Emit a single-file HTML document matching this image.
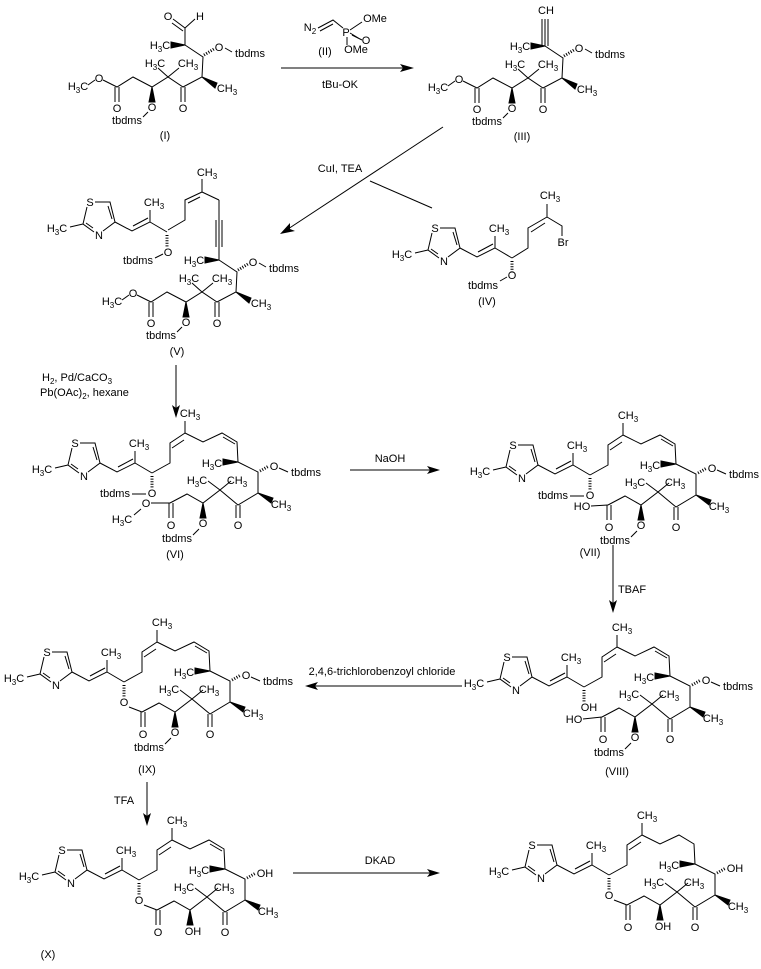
<!DOCTYPE html>
<html><head><meta charset="utf-8"><style>
html,body{margin:0;padding:0;background:#fff;}
svg{display:block;}
text{font-family:"Liberation Sans",sans-serif;font-size:11px;text-anchor:middle;fill:#000;}
</style></head><body>
<svg width="761" height="969" viewBox="0 0 761 969" xmlns="http://www.w3.org/2000/svg">
<defs>
<g id="head" stroke="#000" stroke-width="1" fill="none">
<path d="M80,443 L95,443 L100,463 L88,472 M79,473 L68,465 L72,448 M68,465 L55,468 M93,447 L97,460 M78,469 L71,464 M100,463 L117,472 L135,463 L135,451 M118,467 L133,459 M135,463 L152,473"/>
<line x1="152" y1="476" x2="152" y2="489" stroke-width="3" stroke-dasharray="1 1.6"/>
</g>
<g id="macro" stroke="#000" stroke-width="1" fill="none">
<path d="M152,473 L170,463 L170,443 L185,433 L185,421 M172,448 L184,440 M185,433 L203,442 L222,433 L237,442 L238,462 L258,472 L258,493 L238,505 L220,490 L203,503 L187,494 L170,503 M236,505 L236,518 M240,505 L240,518 M169,503 L169,518 M173,503 L173,518 M220,490 L208,481 M220,490 L231,481"/>
<polygon points="238,462 223,459 223,465" fill="#000"/>
<polygon points="258,493 273,498 271,503" fill="#000"/>
<polygon points="203,503 200,518 206,518" fill="#000"/>
<line x1="260" y1="471" x2="269" y2="466" stroke-width="3" stroke-dasharray="1 1.6"/>
</g>
<g id="chain" stroke="#000" stroke-width="1" fill="none">
<path d="M88,85 L95,80 M103,80 L117,87 L133,77 L152,87 L168,77 L183,87 L202,77 L203,57 L185,45 M168,77 L158,68 M168,77 L179,68 M115,87 L115,102 M119,87 L119,102 M181,87 L181,102 M185,87 L185,102 M148,112 L143,117 M225,48 L232,52"/>
<polygon points="152,87 149,102 155,102" fill="#000"/>
<polygon points="202,77 217,83 215,88" fill="#000"/>
<polygon points="185,45 171,42 171,48" fill="#000"/>
<line x1="204" y1="55" x2="214" y2="49" stroke-width="3" stroke-dasharray="1 1.6"/>
</g>
</defs>

<!-- (I) -->
<use href="#chain"/>
<path d="M185,45 L185,28 L173,19 M183,31 L172,23 M185,28 L195,19" stroke="#000" fill="none"/>
<text x="168" y="20">O</text><text x="200" y="20">H</text>
<text x="78" y="90">H<tspan font-size="8" dy="3">3</tspan><tspan dy="-3">C</tspan></text>
<text x="99" y="82">O</text><text x="117" y="112">O</text><text x="152" y="111">O</text><text x="127" y="124">tbdms</text>
<text x="155" y="67">H<tspan font-size="8" dy="3">3</tspan><tspan dy="-3">C</tspan></text>
<text x="188" y="67">CH<tspan font-size="8" dy="3">3</tspan></text>
<text x="183" y="112">O</text><text x="227" y="92">CH<tspan font-size="8" dy="3">3</tspan></text>
<text x="219" y="51">O</text><text x="250" y="57">tbdms</text>
<text x="160" y="49">H<tspan font-size="8" dy="3">3</tspan><tspan dy="-3">C</tspan></text>
<text x="165" y="139">(I)</text>

<!-- arrow 1 + (II) -->
<line x1="281" y1="68" x2="405" y2="68" stroke="#000"/>
<polygon points="414,68 400,64 403,68 400,72" fill="#000"/>
<text x="340" y="88">tBu-OK</text>
<path d="M318,28 L333,20 L343,28 M320,31 L333,24 M347,37 L347,45 M350,30 L362,22 M352,35 L362,40 M350,33 L360,39" stroke="#000" fill="none"/>
<text x="310" y="31">N<tspan font-size="8" dy="3">2</tspan></text>
<text x="346" y="36">P</text><text x="375" y="22">OMe</text><text x="366" y="44">O</text><text x="356" y="53">OMe</text>
<text x="325" y="55">(II)</text>

<!-- (III) -->
<g transform="translate(360,1)">
<use href="#chain"/>
<path d="M185,45 L185,18 M182,45 L182,18 M188,45 L188,18" stroke="#000" fill="none"/>
<text x="186" y="13">CH</text>
<text x="78" y="90">H<tspan font-size="8" dy="3">3</tspan><tspan dy="-3">C</tspan></text>
<text x="99" y="82">O</text><text x="117" y="112">O</text><text x="152" y="111">O</text><text x="127" y="124">tbdms</text>
<text x="155" y="67">H<tspan font-size="8" dy="3">3</tspan><tspan dy="-3">C</tspan></text>
<text x="188" y="67">CH<tspan font-size="8" dy="3">3</tspan></text>
<text x="183" y="112">O</text><text x="227" y="92">CH<tspan font-size="8" dy="3">3</tspan></text>
<text x="219" y="51">O</text><text x="250" y="57">tbdms</text>
<text x="160" y="49">H<tspan font-size="8" dy="3">3</tspan><tspan dy="-3">C</tspan></text>
</g>
<text x="522" y="140">(III)</text>

<!-- diagonal arrow -->
<line x1="443" y1="127" x2="288" y2="229" stroke="#000"/>
<polygon points="280,234 290,223 290,229 295,231" fill="#000"/>
<line x1="370" y1="181" x2="432" y2="208" stroke="#000"/>
<text x="340" y="172">CuI, TEA</text>

<!-- (IV) -->
<g transform="translate(360,-215)">
<use href="#head"/>
<text x="75" y="447">S</text><text x="84" y="480">N</text>
<text x="42" y="473">H<tspan font-size="8" dy="3">3</tspan><tspan dy="-3">C</tspan></text>
<text x="139" y="447">CH<tspan font-size="8" dy="3">3</tspan></text>
</g>
<path d="M512,258 L528,248 L528,228 L547,217 L547,204 M531,232 L545,223 M547,217 L562,226 L562,236 M507,277 L500,281" stroke="#000" fill="none"/>
<text x="550" y="199">CH<tspan font-size="8" dy="3">3</tspan></text>
<text x="563" y="246">Br</text>
<text x="512" y="279">O</text><text x="483" y="289">tbdms</text>
<text x="487" y="305">(IV)</text>

<!-- (V) -->
<g transform="translate(34,215)">
<use href="#chain"/>
<text x="78" y="90">H<tspan font-size="8" dy="3">3</tspan><tspan dy="-3">C</tspan></text>
<text x="99" y="82">O</text><text x="117" y="112">O</text><text x="152" y="111">O</text><text x="127" y="124">tbdms</text>
<text x="155" y="67">H<tspan font-size="8" dy="3">3</tspan><tspan dy="-3">C</tspan></text>
<text x="188" y="67">CH<tspan font-size="8" dy="3">3</tspan></text>
<text x="183" y="112">O</text><text x="227" y="92">CH<tspan font-size="8" dy="3">3</tspan></text>
<text x="219" y="51">O</text><text x="250" y="57">tbdms</text>
<text x="160" y="49">H<tspan font-size="8" dy="3">3</tspan><tspan dy="-3">C</tspan></text>
</g>
<path d="M219,260 L219,200 M216,247 L216,220 M222,247 L222,220 M219,200 L202,192 L202,179 M202,192 L185,200 L185,220 L168,230 M200,197 L188,203 M163,254 L155,258" stroke="#000" fill="none"/>
<text x="207" y="176">CH<tspan font-size="8" dy="3">3</tspan></text>
<g transform="translate(15,-241)">
<use href="#head"/>
<text x="75" y="447">S</text><text x="84" y="480">N</text>
<text x="42" y="473">H<tspan font-size="8" dy="3">3</tspan><tspan dy="-3">C</tspan></text>
<text x="139" y="447">CH<tspan font-size="8" dy="3">3</tspan></text>
</g>
<text x="168" y="256">O</text><text x="138" y="264">tbdms</text>
<text x="177" y="355">(V)</text>

<!-- V -> VI arrow -->
<line x1="176" y1="365" x2="176" y2="410" stroke="#000"/>
<polygon points="176,418 172,405 176,408 180,405" fill="#000"/>
<text x="42" y="381" style="text-anchor:start">H<tspan font-size="8" dy="3">2</tspan><tspan dy="-3">, Pd/CaCO</tspan><tspan font-size="8" dy="3">3</tspan></text>
<text x="40" y="396" style="text-anchor:start">Pb(OAc)<tspan font-size="8" dy="3">2</tspan><tspan dy="-3">, hexane</tspan></text>

<!-- (VI) -->
<g>
<use href="#head"/><use href="#macro"/>
<line x1="223" y1="437" x2="235" y2="444" stroke="#000"/>
<text x="75" y="447">S</text><text x="84" y="480">N</text>
<text x="42" y="473">H<tspan font-size="8" dy="3">3</tspan><tspan dy="-3">C</tspan></text>
<text x="139" y="447">CH<tspan font-size="8" dy="3">3</tspan></text>
<text x="190" y="417">CH<tspan font-size="8" dy="3">3</tspan></text>
<text x="212" y="467">H<tspan font-size="8" dy="3">3</tspan><tspan dy="-3">C</tspan></text>
<text x="197" y="484">H<tspan font-size="8" dy="3">3</tspan><tspan dy="-3">C</tspan></text>
<text x="237" y="484">CH<tspan font-size="8" dy="3">3</tspan></text>
<text x="281" y="508">CH<tspan font-size="8" dy="3">3</tspan></text>
<text x="238" y="529">O</text><text x="171" y="529">O</text>
<text x="274" y="470">O</text><path d="M279,468 L288,472 M132,494 L146,494 M141,509 L134,515 M151,503 L170,503 M199,529 L193,535" stroke="#000" fill="none"/>
<text x="306" y="476">tbdms</text>
<text x="203" y="527">O</text><text x="177" y="542">tbdms</text>
<text x="152" y="497">O</text><text x="115" y="497">tbdms</text>
<text x="146" y="507">O</text><text x="122" y="523">H<tspan font-size="8" dy="3">3</tspan><tspan dy="-3">C</tspan></text>
</g>
<text x="175" y="558">(VI)</text>

<!-- VI -> VII -->
<line x1="350" y1="470" x2="432" y2="470" stroke="#000"/>
<polygon points="440,470 427,466 430,470 427,474" fill="#000"/>
<text x="390" y="462">NaOH</text>

<!-- (VII) -->
<g transform="translate(438,2)">
<use href="#head"/><use href="#macro"/>
<line x1="223" y1="437" x2="235" y2="444" stroke="#000"/>
<text x="75" y="447">S</text><text x="84" y="480">N</text>
<text x="42" y="473">H<tspan font-size="8" dy="3">3</tspan><tspan dy="-3">C</tspan></text>
<text x="139" y="447">CH<tspan font-size="8" dy="3">3</tspan></text>
<text x="190" y="417">CH<tspan font-size="8" dy="3">3</tspan></text>
<text x="212" y="467">H<tspan font-size="8" dy="3">3</tspan><tspan dy="-3">C</tspan></text>
<text x="197" y="484">H<tspan font-size="8" dy="3">3</tspan><tspan dy="-3">C</tspan></text>
<text x="237" y="484">CH<tspan font-size="8" dy="3">3</tspan></text>
<text x="281" y="508">CH<tspan font-size="8" dy="3">3</tspan></text>
<text x="238" y="529">O</text><text x="171" y="529">O</text>
<text x="274" y="470">O</text><path d="M279,468 L288,472 M132,494 L146,494 M153,504 L170,503 M199,529 L193,535" stroke="#000" fill="none"/>
<text x="306" y="476">tbdms</text>
<text x="203" y="527">O</text><text x="177" y="542">tbdms</text>
<text x="152" y="497">O</text><text x="115" y="497">tbdms</text>
<text x="144" y="508">HO</text>
</g>
<text x="590" y="556">(VII)</text>

<!-- VII -> VIII -->
<line x1="613" y1="545" x2="613" y2="605" stroke="#000"/>
<polygon points="613,613 609,600 613,603 617,600" fill="#000"/>
<text x="632" y="593">TBAF</text>

<!-- (VIII) -->
<g transform="translate(432,214)">
<use href="#head"/><use href="#macro"/>
<line x1="223" y1="437" x2="235" y2="444" stroke="#000"/>
<text x="75" y="447">S</text><text x="84" y="480">N</text>
<text x="42" y="473">H<tspan font-size="8" dy="3">3</tspan><tspan dy="-3">C</tspan></text>
<text x="139" y="447">CH<tspan font-size="8" dy="3">3</tspan></text>
<text x="190" y="417">CH<tspan font-size="8" dy="3">3</tspan></text>
<text x="212" y="467">H<tspan font-size="8" dy="3">3</tspan><tspan dy="-3">C</tspan></text>
<text x="197" y="484">H<tspan font-size="8" dy="3">3</tspan><tspan dy="-3">C</tspan></text>
<text x="237" y="484">CH<tspan font-size="8" dy="3">3</tspan></text>
<text x="281" y="508">CH<tspan font-size="8" dy="3">3</tspan></text>
<text x="238" y="529">O</text><text x="171" y="529">O</text>
<text x="274" y="470">O</text><path d="M279,468 L288,472 M151,505 L170,503 M199,529 L193,535" stroke="#000" fill="none"/>
<text x="306" y="476">tbdms</text>
<text x="203" y="527">O</text><text x="177" y="542">tbdms</text>
<text x="157" y="497">OH</text>
<text x="142" y="509">HO</text>
</g>
<text x="617" y="775">(VIII)</text>

<!-- VIII -> IX -->
<line x1="462" y1="686" x2="313" y2="686" stroke="#000"/>
<polygon points="305,686 318,682 315,686 318,690" fill="#000"/>
<text x="382" y="675">2,4,6-trichlorobenzoyl chloride</text>

<!-- (IX) -->
<g transform="translate(-28,209)">
<use href="#head"/><use href="#macro"/>
<line x1="223" y1="437" x2="235" y2="444" stroke="#000"/>
<text x="75" y="447">S</text><text x="84" y="480">N</text>
<text x="42" y="473">H<tspan font-size="8" dy="3">3</tspan><tspan dy="-3">C</tspan></text>
<text x="139" y="447">CH<tspan font-size="8" dy="3">3</tspan></text>
<text x="190" y="417">CH<tspan font-size="8" dy="3">3</tspan></text>
<text x="212" y="467">H<tspan font-size="8" dy="3">3</tspan><tspan dy="-3">C</tspan></text>
<text x="197" y="484">H<tspan font-size="8" dy="3">3</tspan><tspan dy="-3">C</tspan></text>
<text x="237" y="484">CH<tspan font-size="8" dy="3">3</tspan></text>
<text x="281" y="508">CH<tspan font-size="8" dy="3">3</tspan></text>
<text x="238" y="529">O</text><text x="171" y="529">O</text>
<text x="274" y="470">O</text><path d="M279,468 L288,472 M157,498 L170,503 M199,529 L193,535" stroke="#000" fill="none"/>
<text x="306" y="476">tbdms</text>
<text x="203" y="527">O</text><text x="177" y="542">tbdms</text>
<text x="152" y="497">O</text>
</g>
<text x="147" y="773">(IX)</text>

<!-- IX -> X -->
<line x1="147" y1="782" x2="147" y2="818" stroke="#000"/>
<polygon points="147,826 143,813 147,816 151,813" fill="#000"/>
<text x="124" y="804">TFA</text>

<!-- (X) -->
<g transform="translate(-13,407)">
<use href="#head"/><use href="#macro"/>
<line x1="223" y1="437" x2="235" y2="444" stroke="#000"/>
<text x="75" y="447">S</text><text x="84" y="480">N</text>
<text x="42" y="473">H<tspan font-size="8" dy="3">3</tspan><tspan dy="-3">C</tspan></text>
<text x="139" y="447">CH<tspan font-size="8" dy="3">3</tspan></text>
<text x="190" y="417">CH<tspan font-size="8" dy="3">3</tspan></text>
<text x="212" y="467">H<tspan font-size="8" dy="3">3</tspan><tspan dy="-3">C</tspan></text>
<text x="197" y="484">H<tspan font-size="8" dy="3">3</tspan><tspan dy="-3">C</tspan></text>
<text x="237" y="484">CH<tspan font-size="8" dy="3">3</tspan></text>
<text x="281" y="508">CH<tspan font-size="8" dy="3">3</tspan></text>
<text x="238" y="529">O</text><text x="171" y="529">O</text>
<path d="M157,498 L170,503" stroke="#000"/>
<text x="278" y="470">OH</text>
<text x="206" y="528">OH</text>
<text x="152" y="497">O</text>
</g>
<text x="48" y="958">(X)</text>

<!-- X -> final -->
<line x1="293" y1="873" x2="432" y2="873" stroke="#000"/>
<polygon points="440,873 427,869 430,873 427,877" fill="#000"/>
<text x="380" y="864">DKAD</text>

<!-- final -->
<g transform="translate(457,402)">
<use href="#head"/><use href="#macro"/>
<text x="75" y="447">S</text><text x="84" y="480">N</text>
<text x="42" y="473">H<tspan font-size="8" dy="3">3</tspan><tspan dy="-3">C</tspan></text>
<text x="139" y="447">CH<tspan font-size="8" dy="3">3</tspan></text>
<text x="190" y="417">CH<tspan font-size="8" dy="3">3</tspan></text>
<text x="212" y="467">H<tspan font-size="8" dy="3">3</tspan><tspan dy="-3">C</tspan></text>
<text x="197" y="484">H<tspan font-size="8" dy="3">3</tspan><tspan dy="-3">C</tspan></text>
<text x="237" y="484">CH<tspan font-size="8" dy="3">3</tspan></text>
<text x="281" y="508">CH<tspan font-size="8" dy="3">3</tspan></text>
<text x="238" y="529">O</text><text x="171" y="529">O</text>
<path d="M157,498 L170,503" stroke="#000"/>
<text x="278" y="470">OH</text>
<text x="206" y="528">OH</text>
<text x="152" y="497">O</text>
</g>
</svg>
</body></html>
